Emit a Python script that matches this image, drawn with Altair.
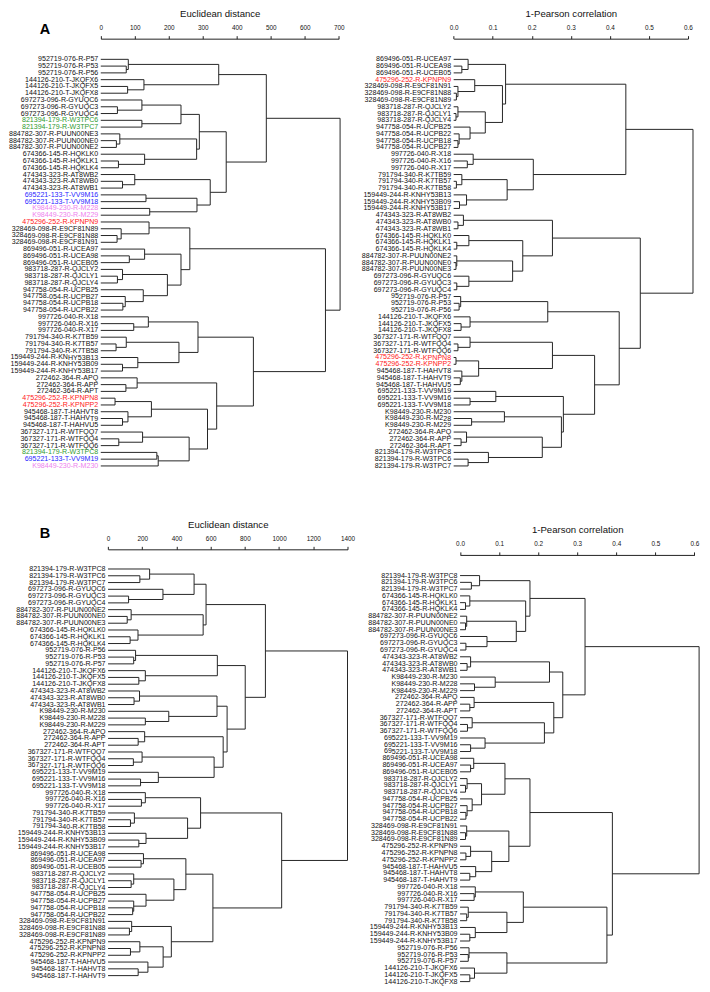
import altair as alt
import pandas as pd

# ---------------- leaf orders (top to bottom) ----------------
AL_LEAVES = [
    "952719-076-R-P57", "952719-076-R-P53", "952719-076-R-P56",
    "144126-210-T-JKQFX6", "144126-210-T-JKQFX5", "144126-210-T-JKQFX8",
    "697273-096-R-GYUQC6", "697273-096-R-GYUQC3", "697273-096-R-GYUQC4",
    "821394-179-R-W3TPC6", "821394-179-R-W3TPC7",
    "884782-307-R-PUUN00NE3", "884782-307-R-PUUN00NE0", "884782-307-R-PUUN00NE2",
    "674366-145-R-HQKLK0", "674366-145-R-HQKLK1", "674366-145-R-HQKLK4",
    "474343-323-R-AT8WB2", "474343-323-R-AT8WB0", "474343-323-R-AT8WB1",
    "695221-133-T-VV9M16", "695221-133-T-VV9M18",
    "K98449-230-R-M228", "K98449-230-R-M229",
    "475296-252-R-KPNPN9",
    "328469-098-R-E9CF81N89", "328469-098-R-E9CF81N88", "328469-098-R-E9CF81N91",
    "869496-051-R-UCEA97", "869496-051-R-UCEA98", "869496-051-R-UCEB05",
    "983718-287-R-QJCLY2", "983718-287-R-QJCLY1", "983718-287-R-QJCLY4",
    "947758-054-R-UCPB25", "947758-054-R-UCPB27", "947758-054-R-UCPB18", "947758-054-R-UCPB22",
    "997726-040-R-X18", "997726-040-R-X16", "997726-040-R-X17",
    "791794-340-R-K7TB59", "791794-340-R-K7TB57", "791794-340-R-K7TB58",
    "159449-244-R-KNHY53B13", "159449-244-R-KNHY53B09", "159449-244-R-KNHY53B17",
    "272462-364-R-APQ", "272462-364-R-APP", "272462-364-R-APT",
    "475296-252-R-KPNPN8", "475296-252-R-KPNPP2",
    "945468-187-T-HAHVT8", "945468-187-T-HAHVT9", "945468-187-T-HAHVU5",
    "367327-171-R-WTFQQ7", "367327-171-R-WTFQQ4", "367327-171-R-WTFQQ6",
    "821394-179-R-W3TPC8", "695221-133-T-VV9M19", "K98449-230-R-M230",
]

AR_LEAVES = [
    "869496-051-R-UCEA97", "869496-051-R-UCEA98", "869496-051-R-UCEB05",
    "475296-252-R-KPNPN9",
    "328469-098-R-E9CF81N91", "328469-098-R-E9CF81N88", "328469-098-R-E9CF81N89",
    "983718-287-R-QJCLY2", "983718-287-R-QJCLY1", "983718-287-R-QJCLY4",
    "947758-054-R-UCPB25", "947758-054-R-UCPB22", "947758-054-R-UCPB18", "947758-054-R-UCPB27",
    "997726-040-R-X18", "997726-040-R-X16", "997726-040-R-X17",
    "791794-340-R-K7TB59", "791794-340-R-K7TB57", "791794-340-R-K7TB58",
    "159449-244-R-KNHY53B13", "159449-244-R-KNHY53B09", "159449-244-R-KNHY53B17",
    "474343-323-R-AT8WB2", "474343-323-R-AT8WB0", "474343-323-R-AT8WB1",
    "674366-145-R-HQKLK0", "674366-145-R-HQKLK1", "674366-145-R-HQKLK4",
    "884782-307-R-PUUN00NE2", "884782-307-R-PUUN00NE0", "884782-307-R-PUUN00NE3",
    "697273-096-R-GYUQC6", "697273-096-R-GYUQC3", "697273-096-R-GYUQC4",
    "952719-076-R-P57", "952719-076-R-P53", "952719-076-R-P56",
    "144126-210-T-JKQFX6", "144126-210-T-JKQFX5", "144126-210-T-JKQFX8",
    "367327-171-R-WTFQQ7", "367327-171-R-WTFQQ4", "367327-171-R-WTFQQ6",
    "475296-252-R-KPNPN8", "475296-252-R-KPNPP2",
    "945468-187-T-HAHVT8", "945468-187-T-HAHVT9", "945468-187-T-HAHVU5",
    "695221-133-T-VV9M19", "695221-133-T-VV9M16", "695221-133-T-VV9M18",
    "K98449-230-R-M230", "K98449-230-R-M228", "K98449-230-R-M229",
    "272462-364-R-APQ", "272462-364-R-APP", "272462-364-R-APT",
    "821394-179-R-W3TPC8", "821394-179-R-W3TPC6", "821394-179-R-W3TPC7",
]

BL_LEAVES = [
    "821394-179-R-W3TPC8", "821394-179-R-W3TPC6", "821394-179-R-W3TPC7",
    "697273-096-R-GYUQC6", "697273-096-R-GYUQC3", "697273-096-R-GYUQC4",
    "884782-307-R-PUUN00NE2", "884782-307-R-PUUN00NE0", "884782-307-R-PUUN00NE3",
    "674366-145-R-HQKLK0", "674366-145-R-HQKLK1", "674366-145-R-HQKLK4",
    "952719-076-R-P56", "952719-076-R-P53", "952719-076-R-P57",
    "144126-210-T-JKQFX6", "144126-210-T-JKQFX5", "144126-210-T-JKQFX8",
    "474343-323-R-AT8WB2", "474343-323-R-AT8WB0", "474343-323-R-AT8WB1",
    "K98449-230-R-M230", "K98449-230-R-M228", "K98449-230-R-M229",
    "272462-364-R-APQ", "272462-364-R-APP", "272462-364-R-APT",
    "367327-171-R-WTFQQ7", "367327-171-R-WTFQQ4", "367327-171-R-WTFQQ6",
    "695221-133-T-VV9M19", "695221-133-T-VV9M16", "695221-133-T-VV9M18",
    "997726-040-R-X18", "997726-040-R-X16", "997726-040-R-X17",
    "791794-340-R-K7TB59", "791794-340-R-K7TB57", "791794-340-R-K7TB58",
    "159449-244-R-KNHY53B13", "159449-244-R-KNHY53B09", "159449-244-R-KNHY53B17",
    "869496-051-R-UCEA98", "869496-051-R-UCEA97", "869496-051-R-UCEB05",
    "983718-287-R-QJCLY2", "983718-287-R-QJCLY1", "983718-287-R-QJCLY4",
    "947758-054-R-UCPB25", "947758-054-R-UCPB27", "947758-054-R-UCPB18", "947758-054-R-UCPB22",
    "328469-098-R-E9CF81N91", "328469-098-R-E9CF81N88", "328469-098-R-E9CF81N89",
    "475296-252-R-KPNPN9", "475296-252-R-KPNPN8", "475296-252-R-KPNPP2",
    "945468-187-T-HAHVU5", "945468-187-T-HAHVT8", "945468-187-T-HAHVT9",
]

BR_LEAVES = [
    "821394-179-R-W3TPC8", "821394-179-R-W3TPC6", "821394-179-R-W3TPC7",
    "674366-145-R-HQKLK0", "674366-145-R-HQKLK1", "674366-145-R-HQKLK4",
    "884782-307-R-PUUN00NE2", "884782-307-R-PUUN00NE0", "884782-307-R-PUUN00NE3",
    "697273-096-R-GYUQC6", "697273-096-R-GYUQC3", "697273-096-R-GYUQC4",
    "474343-323-R-AT8WB2", "474343-323-R-AT8WB0", "474343-323-R-AT8WB1",
    "K98449-230-R-M230", "K98449-230-R-M228", "K98449-230-R-M229",
    "272462-364-R-APQ", "272462-364-R-APP", "272462-364-R-APT",
    "367327-171-R-WTFQQ7", "367327-171-R-WTFQQ4", "367327-171-R-WTFQQ6",
    "695221-133-T-VV9M19", "695221-133-T-VV9M16", "695221-133-T-VV9M18",
    "869496-051-R-UCEA98", "869496-051-R-UCEA97", "869496-051-R-UCEB05",
    "983718-287-R-QJCLY2", "983718-287-R-QJCLY1", "983718-287-R-QJCLY4",
    "947758-054-R-UCPB25", "947758-054-R-UCPB27", "947758-054-R-UCPB18", "947758-054-R-UCPB22",
    "328469-098-R-E9CF81N91", "328469-098-R-E9CF81N88", "328469-098-R-E9CF81N89",
    "475296-252-R-KPNPN9", "475296-252-R-KPNPN8", "475296-252-R-KPNPP2",
    "945468-187-T-HAHVU5", "945468-187-T-HAHVT8", "945468-187-T-HAHVT9",
    "997726-040-R-X18", "997726-040-R-X16", "997726-040-R-X17",
    "791794-340-R-K7TB59", "791794-340-R-K7TB57", "791794-340-R-K7TB58",
    "159449-244-R-KNHY53B13", "159449-244-R-KNHY53B09", "159449-244-R-KNHY53B17",
    "952719-076-R-P56", "952719-076-R-P53", "952719-076-R-P57",
    "144126-210-T-JKQFX6", "144126-210-T-JKQFX5", "144126-210-T-JKQFX8",
]

# ---------------- merges: (node, child1, child2, height) ----------------
AL_MERGES = [
    ("p1", "952719-076-R-P53", "952719-076-R-P56", 75),
    ("p2", "952719-076-R-P57", "p1", 81),
    ("j1", "144126-210-T-JKQFX5", "144126-210-T-JKQFX8", 79),
    ("j2", "144126-210-T-JKQFX6", "j1", 127),
    ("pj", "p2", "j2", 347),
    ("g1", "697273-096-R-GYUQC3", "697273-096-R-GYUQC4", 49),
    ("g2", "697273-096-R-GYUQC6", "g1", 121),
    ("w1", "821394-179-R-W3TPC6", "821394-179-R-W3TPC7", 121),
    ("gw", "g2", "w1", 236),
    ("u1", "884782-307-R-PUUN00NE0", "884782-307-R-PUUN00NE2", 46),
    ("u2", "884782-307-R-PUUN00NE3", "u1", 56),
    ("h1", "674366-145-R-HQKLK1", "674366-145-R-HQKLK4", 52),
    ("h2", "674366-145-R-HQKLK0", "h1", 129),
    ("uh", "u2", "h2", 282),
    ("gwuh", "gw", "uh", 290),
    ("a1", "474343-323-R-AT8WB0", "474343-323-R-AT8WB1", 64),
    ("a2", "474343-323-R-AT8WB2", "a1", 100),
    ("v1", "695221-133-T-VV9M16", "695221-133-T-VV9M18", 133),
    ("m1", "K98449-230-R-M228", "K98449-230-R-M229", 144),
    ("vm", "v1", "m1", 283),
    ("avm", "a2", "vm", 322),
    ("mid", "gwuh", "avm", 369),
    ("top", "pj", "mid", 487),
    ("e1", "328469-098-R-E9CF81N88", "328469-098-R-E9CF81N91", 48),
    ("e2", "328469-098-R-E9CF81N89", "e1", 60),
    ("e3", "475296-252-R-KPNPN9", "e2", 142),
    ("c1", "869496-051-R-UCEA98", "869496-051-R-UCEB05", 84),
    ("c2", "869496-051-R-UCEA97", "c1", 129),
    ("q1", "983718-287-R-QJCLY1", "983718-287-R-QJCLY4", 49),
    ("q2", "983718-287-R-QJCLY2", "q1", 64),
    ("b1", "947758-054-R-UCPB18", "947758-054-R-UCPB22", 65),
    ("b2", "947758-054-R-UCPB27", "b1", 72),
    ("b3", "947758-054-R-UCPB25", "b2", 125),
    ("qb", "q2", "b3", 196),
    ("cqb", "c2", "qb", 236),
    ("ecqb", "e3", "cqb", 262),
    ("x1", "997726-040-R-X16", "997726-040-R-X17", 97),
    ("x2", "997726-040-R-X18", "x1", 140),
    ("k1", "791794-340-R-K7TB57", "791794-340-R-K7TB58", 45),
    ("k2", "791794-340-R-K7TB59", "k1", 75),
    ("n1", "159449-244-R-KNHY53B09", "159449-244-R-KNHY53B17", 64),
    ("n2", "159449-244-R-KNHY53B13", "n1", 109),
    ("kn", "k2", "n2", 230),
    ("xkn", "x2", "kn", 286),
    ("r1", "272462-364-R-APP", "272462-364-R-APT", 74),
    ("r2", "272462-364-R-APQ", "r1", 107),
    ("kp", "475296-252-R-KPNPN8", "475296-252-R-KPNPP2", 42),
    ("t1", "945468-187-T-HAHVT9", "945468-187-T-HAHVU5", 64),
    ("t2", "945468-187-T-HAHVT8", "t1", 80),
    ("kt", "kp", "t2", 149),
    ("f1", "367327-171-R-WTFQQ4", "367327-171-R-WTFQQ6", 53),
    ("f2", "367327-171-R-WTFQQ7", "f1", 123),
    ("s1", "821394-179-R-W3TPC8", "695221-133-T-VV9M19", 165),
    ("s2", "s1", "K98449-230-R-M230", 169),
    ("fs", "f2", "s2", 260),
    ("ktfs", "kt", "fs", 314),
    ("rk", "r2", "ktfs", 341),
    ("xr", "xkn", "rk", 449),
    ("low", "ecqb", "xr", 661),
    ("root", "top", "low", 704),
]

AR_MERGES = [
    ("c1", "869496-051-R-UCEA98", "869496-051-R-UCEB05", 0.021),
    ("c2", "869496-051-R-UCEA97", "c1", 0.037),
    ("e1", "328469-098-R-E9CF81N88", "328469-098-R-E9CF81N89", 0.007),
    ("e2", "328469-098-R-E9CF81N91", "e1", 0.011),
    ("e3", "475296-252-R-KPNPN9", "e2", 0.054),
    ("q1", "983718-287-R-QJCLY1", "983718-287-R-QJCLY4", 0.006),
    ("q2", "983718-287-R-QJCLY2", "q1", 0.011),
    ("b1", "947758-054-R-UCPB18", "947758-054-R-UCPB27", 0.011),
    ("b2", "947758-054-R-UCPB22", "b1", 0.014),
    ("b3", "947758-054-R-UCPB25", "b2", 0.042),
    ("qb", "q2", "b3", 0.081),
    ("eqb", "e3", "qb", 0.125),
    ("ceqb", "c2", "eqb", 0.133),
    ("x1", "997726-040-R-X16", "997726-040-R-X17", 0.035),
    ("x2", "997726-040-R-X18", "x1", 0.050),
    ("k1", "791794-340-R-K7TB57", "791794-340-R-K7TB58", 0.007),
    ("k2", "791794-340-R-K7TB59", "k1", 0.021),
    ("n1", "159449-244-R-KNHY53B09", "159449-244-R-KNHY53B17", 0.015),
    ("n2", "159449-244-R-KNHY53B13", "n1", 0.033),
    ("kn", "k2", "n2", 0.137),
    ("xkn", "x2", "kn", 0.204),
    ("up", "ceqb", "xkn", 0.441),
    ("a1", "474343-323-R-AT8WB0", "474343-323-R-AT8WB1", 0.011),
    ("a2", "474343-323-R-AT8WB2", "a1", 0.025),
    ("h1", "674366-145-R-HQKLK1", "674366-145-R-HQKLK4", 0.008),
    ("h2", "674366-145-R-HQKLK0", "h1", 0.039),
    ("u1", "884782-307-R-PUUN00NE0", "884782-307-R-PUUN00NE3", 0.006),
    ("u2", "884782-307-R-PUUN00NE2", "u1", 0.008),
    ("g1", "697273-096-R-GYUQC3", "697273-096-R-GYUQC4", 0.008),
    ("g2", "697273-096-R-GYUQC6", "g1", 0.039),
    ("ug", "u2", "g2", 0.151),
    ("hug", "h2", "ug", 0.177),
    ("ahug", "a2", "hug", 0.253),
    ("p1", "952719-076-R-P53", "952719-076-R-P56", 0.014),
    ("p2", "952719-076-R-P57", "p1", 0.018),
    ("j1", "144126-210-T-JKQFX5", "144126-210-T-JKQFX8", 0.019),
    ("j2", "144126-210-T-JKQFX6", "j1", 0.042),
    ("pj", "p2", "j2", 0.241),
    ("f1", "367327-171-R-WTFQQ4", "367327-171-R-WTFQQ6", 0.011),
    ("f2", "367327-171-R-WTFQQ7", "f1", 0.042),
    ("kp", "475296-252-R-KPNPN8", "475296-252-R-KPNPP2", 0.006),
    ("t1", "945468-187-T-HAHVT9", "945468-187-T-HAHVU5", 0.017),
    ("t2", "945468-187-T-HAHVT8", "t1", 0.021),
    ("kt", "kp", "t2", 0.064),
    ("fkt", "f2", "kt", 0.253),
    ("v1", "695221-133-T-VV9M16", "695221-133-T-VV9M18", 0.042),
    ("v2", "695221-133-T-VV9M19", "v1", 0.108),
    ("m1", "K98449-230-R-M228", "K98449-230-R-M229", 0.046),
    ("m2", "K98449-230-R-M230", "m1", 0.130),
    ("r1", "272462-364-R-APP", "272462-364-R-APT", 0.019),
    ("r2", "272462-364-R-APQ", "r1", 0.033),
    ("w1", "821394-179-R-W3TPC6", "821394-179-R-W3TPC7", 0.037),
    ("w2", "821394-179-R-W3TPC8", "w1", 0.089),
    ("rw", "r2", "w2", 0.227),
    ("mrw", "m2", "rw", 0.276),
    ("vmrw", "v2", "mrw", 0.281),
    ("fv", "fkt", "vmrw", 0.361),
    ("pjfv", "pj", "fv", 0.424),
    ("low", "ahug", "pjfv", 0.478),
    ("root", "up", "low", 0.613),
]

BL_MERGES = [
    ("w1", "821394-179-R-W3TPC6", "821394-179-R-W3TPC7", 186),
    ("w2", "821394-179-R-W3TPC8", "w1", 243),
    ("g1", "697273-096-R-GYUQC3", "697273-096-R-GYUQC4", 120),
    ("g2", "697273-096-R-GYUQC6", "g1", 321),
    ("wg", "w2", "g2", 503),
    ("u1", "884782-307-R-PUUN00NE0", "884782-307-R-PUUN00NE3", 112),
    ("u2", "884782-307-R-PUUN00NE2", "u1", 135),
    ("h1", "674366-145-R-HQKLK1", "674366-145-R-HQKLK4", 129),
    ("h2", "674366-145-R-HQKLK0", "h1", 175),
    ("uh", "u2", "h2", 556),
    ("wguh", "wg", "uh", 573),
    ("p1", "952719-076-R-P53", "952719-076-R-P57", 150),
    ("p2", "952719-076-R-P56", "p1", 161),
    ("j1", "144126-210-T-JKQFX5", "144126-210-T-JKQFX8", 180),
    ("j2", "144126-210-T-JKQFX6", "j1", 218),
    ("pj", "p2", "j2", 639),
    ("a1", "474343-323-R-AT8WB0", "474343-323-R-AT8WB1", 152),
    ("a2", "474343-323-R-AT8WB2", "a1", 184),
    ("m1", "K98449-230-R-M228", "K98449-230-R-M229", 218),
    ("m2", "K98449-230-R-M230", "m1", 355),
    ("am", "a2", "m2", 637),
    ("r1", "272462-364-R-APP", "272462-364-R-APT", 176),
    ("r2", "272462-364-R-APQ", "r1", 214),
    ("f1", "367327-171-R-WTFQQ4", "367327-171-R-WTFQQ6", 148),
    ("f2", "367327-171-R-WTFQQ7", "f1", 199),
    ("v1", "695221-133-T-VV9M16", "695221-133-T-VV9M18", 190),
    ("v2", "695221-133-T-VV9M19", "v1", 294),
    ("fv", "f2", "v2", 620),
    ("rfv", "r2", "fv", 673),
    ("amrfv", "am", "rfv", 696),
    ("pjam", "pj", "amrfv", 802),
    ("up", "wguh", "pjam", 920),
    ("x1", "997726-040-R-X16", "997726-040-R-X17", 195),
    ("x2", "997726-040-R-X18", "x1", 218),
    ("k1", "791794-340-R-K7TB57", "791794-340-R-K7TB58", 131),
    ("k2", "791794-340-R-K7TB59", "k1", 154),
    ("n1", "159449-244-R-KNHY53B09", "159449-244-R-KNHY53B17", 180),
    ("n2", "159449-244-R-KNHY53B13", "n1", 222),
    ("kn", "k2", "n2", 465),
    ("xkn", "x2", "kn", 541),
    ("c1", "869496-051-R-UCEA97", "869496-051-R-UCEB05", 193),
    ("c2", "869496-051-R-UCEA98", "c1", 207),
    ("q1", "983718-287-R-QJCLY1", "983718-287-R-QJCLY4", 135),
    ("q2", "983718-287-R-QJCLY2", "q1", 150),
    ("b1", "947758-054-R-UCPB18", "947758-054-R-UCPB22", 144),
    ("b2", "947758-054-R-UCPB27", "b1", 150),
    ("b3", "947758-054-R-UCPB25", "b2", 222),
    ("qb", "q2", "b3", 385),
    ("cqb", "c2", "qb", 455),
    ("e1", "328469-098-R-E9CF81N88", "328469-098-R-E9CF81N89", 125),
    ("e2", "328469-098-R-E9CF81N91", "e1", 138),
    ("k3", "475296-252-R-KPNPN8", "475296-252-R-KPNPP2", 131),
    ("k4", "475296-252-R-KPNPN9", "k3", 186),
    ("t1", "945468-187-T-HAHVT8", "945468-187-T-HAHVT9", 176),
    ("t2", "945468-187-T-HAHVU5", "t1", 233),
    ("kt", "k4", "t2", 322),
    ("ekt", "e2", "kt", 370),
    ("ce", "cqb", "ekt", 613),
    ("low", "xkn", "ce", 1015),
    ("root", "up", "low", 1400),
]

BR_MERGES = [
    ("w1", "821394-179-R-W3TPC6", "821394-179-R-W3TPC7", 0.029),
    ("w2", "821394-179-R-W3TPC8", "w1", 0.050),
    ("h1", "674366-145-R-HQKLK1", "674366-145-R-HQKLK4", 0.014),
    ("h2", "674366-145-R-HQKLK0", "h1", 0.025),
    ("u1", "884782-307-R-PUUN00NE0", "884782-307-R-PUUN00NE3", 0.014),
    ("u2", "884782-307-R-PUUN00NE2", "u1", 0.017),
    ("g1", "697273-096-R-GYUQC3", "697273-096-R-GYUQC4", 0.015),
    ("g2", "697273-096-R-GYUQC6", "g1", 0.069),
    ("ug", "u2", "g2", 0.144),
    ("hug", "h2", "ug", 0.168),
    ("whug", "w2", "hug", 0.179),
    ("a1", "474343-323-R-AT8WB0", "474343-323-R-AT8WB1", 0.018),
    ("a2", "474343-323-R-AT8WB2", "a1", 0.027),
    ("m1", "K98449-230-R-M228", "K98449-230-R-M229", 0.037),
    ("m2", "K98449-230-R-M230", "m1", 0.090),
    ("am", "a2", "m2", 0.229),
    ("r1", "272462-364-R-APP", "272462-364-R-APT", 0.025),
    ("r2", "272462-364-R-APQ", "r1", 0.036),
    ("f1", "367327-171-R-WTFQQ4", "367327-171-R-WTFQQ6", 0.019),
    ("f2", "367327-171-R-WTFQQ7", "f1", 0.031),
    ("v1", "695221-133-T-VV9M16", "695221-133-T-VV9M18", 0.027),
    ("v2", "695221-133-T-VV9M19", "v1", 0.064),
    ("fv", "f2", "v2", 0.216),
    ("rfv", "r2", "fv", 0.240),
    ("amrfv", "am", "rfv", 0.263),
    ("up", "whug", "amrfv", 0.320),
    ("c1", "869496-051-R-UCEA97", "869496-051-R-UCEB05", 0.027),
    ("c2", "869496-051-R-UCEA98", "c1", 0.035),
    ("q1", "983718-287-R-QJCLY1", "983718-287-R-QJCLY4", 0.014),
    ("q2", "983718-287-R-QJCLY2", "q1", 0.018),
    ("b1", "947758-054-R-UCPB18", "947758-054-R-UCPB22", 0.015),
    ("b2", "947758-054-R-UCPB27", "b1", 0.018),
    ("b3", "947758-054-R-UCPB25", "b2", 0.031),
    ("qb", "q2", "b3", 0.055),
    ("cqb", "c2", "qb", 0.115),
    ("e1", "328469-098-R-E9CF81N88", "328469-098-R-E9CF81N89", 0.014),
    ("e2", "328469-098-R-E9CF81N91", "e1", 0.017),
    ("k3", "475296-252-R-KPNPN8", "475296-252-R-KPNPP2", 0.015),
    ("k4", "475296-252-R-KPNPN9", "k3", 0.027),
    ("t1", "945468-187-T-HAHVT8", "945468-187-T-HAHVT9", 0.025),
    ("t2", "945468-187-T-HAHVU5", "t1", 0.040),
    ("kt", "k4", "t2", 0.081),
    ("ekt", "e2", "kt", 0.125),
    ("ce", "cqb", "ekt", 0.179),
    ("x1", "997726-040-R-X16", "997726-040-R-X17", 0.036),
    ("x2", "997726-040-R-X18", "x1", 0.039),
    ("k1", "791794-340-R-K7TB57", "791794-340-R-K7TB58", 0.017),
    ("k2", "791794-340-R-K7TB59", "k1", 0.021),
    ("n1", "159449-244-R-KNHY53B09", "159449-244-R-KNHY53B17", 0.025),
    ("n2", "159449-244-R-KNHY53B13", "n1", 0.039),
    ("kn", "k2", "n2", 0.120),
    ("xkn", "x2", "kn", 0.162),
    ("p1", "952719-076-R-P53", "952719-076-R-P57", 0.021),
    ("p2", "952719-076-R-P56", "p1", 0.023),
    ("j1", "144126-210-T-JKQFX5", "144126-210-T-JKQFX8", 0.025),
    ("j2", "144126-210-T-JKQFX6", "j1", 0.037),
    ("pj", "p2", "j2", 0.120),
    ("xpj", "xkn", "pj", 0.376),
    ("low", "ce", "xpj", 0.390),
    ("root", "up", "low", 0.612),
]

# highlighted sample groups (label colour) per panel
GROUPS = ["821394-179", "695221-133", "K98449-230", "475296-252", "other"]
GROUP_COLORS = ["#2f9a2f", "#1f1fff", "#ee82ee", "#ff1a1a", "#111111"]
AL_HIGHLIGHT = ["821394-179", "695221-133", "K98449-230", "475296-252"]
AR_HIGHLIGHT = ["475296-252"]

EUC_A_TICKS = [0, 100, 200, 300, 400, 500, 600, 700]
EUC_B_TICKS = [0, 200, 400, 600, 800, 1000, 1200, 1400]
COR_TICKS = [0.0, 0.1, 0.2, 0.3, 0.4, 0.5, 0.6]

FONT = "Liberation Sans"
COLOR_OF = dict(zip(GROUPS, GROUP_COLORS))


def segments(leaves, merges):
    pos = {name: (0.0, float(i + 1)) for i, name in enumerate(leaves)}
    rows = []
    for node, a, b, h in merges:
        ha, ya = pos[a]
        hb, yb = pos[b]
        rows.append({"x": ha, "x2": h, "y": ya, "y2": ya})
        rows.append({"x": hb, "x2": h, "y": yb, "y2": yb})
        rows.append({"x": h, "x2": h, "y": ya, "y2": yb})
        pos[node] = (h, (ya + yb) / 2.0)
    return pd.DataFrame(rows)


def panel(leaves, merges, highlight, xdom, xrng, yrng, ticks, fmt, title,
          width, height, offset=0, letter=None):
    seg = segments(leaves, merges)
    groups = [n[:10] if n[:10] in highlight else "other" for n in leaves]
    lab = pd.DataFrame({
        "name": leaves,
        "y": [float(i + 1) for i in range(len(leaves))],
        "x": [0.0] * len(leaves),
        "col": [COLOR_OF[g] for g in groups],
    })
    xs = alt.Scale(domain=xdom, range=xrng, nice=False, zero=False)
    ys = alt.Scale(domain=[1, len(leaves)], range=yrng, nice=False, zero=False)
    xax = alt.Axis(orient="top", values=ticks, format=fmt, title=title, offset=offset,
                   grid=False, tickSize=3, labelPadding=5, titlePadding=6,
                   labelFontSize=6.4, titleFontSize=9.6, titleFontWeight="normal",
                   labelFont=FONT, titleFont=FONT, domainColor="#222222",
                   tickColor="#222222", labelColor="#111111", titleColor="#111111",
                   labelFlush=False, labelOverlap=False)
    rules = alt.Chart(seg).mark_rule(color="#262626", strokeWidth=1).encode(
        x=alt.X("x:Q", scale=xs, axis=xax),
        x2="x2:Q",
        y=alt.Y("y:Q", scale=ys, axis=None),
        y2="y2:Q",
    )
    text = alt.Chart(lab).mark_text(align="right", baseline="middle", dx=-2.5,
                                    fontSize=7.1, font=FONT, angle=0.02).encode(
        x=alt.X("x:Q", scale=xs, axis=xax),
        y=alt.Y("y:Q", scale=ys, axis=None),
        text="name:N",
        color=alt.Color("col:N", scale=None, legend=None),
    )
    layers = [rules, text]
    if letter is not None:
        lt = alt.Chart(pd.DataFrame({"t": [letter[0]]})).mark_text(
            fontSize=14.5, fontWeight="bold", font=FONT, align="center",
            baseline="middle", color="#000000").encode(
            x=alt.value(letter[1]), y=alt.value(letter[2]), text="t:N")
        layers.append(lt)
    return alt.layer(*layers).properties(width=width, height=height)


A_H = 516.4
B_H = 432

al = panel(AL_LEAVES, AL_MERGES, AL_HIGHLIGHT, [0, 700], [91.9, 330.2], [20.7, 427.9],
           EUC_A_TICKS, "d", "Euclidean distance", 345, A_H, 0, ("A", 36, -8.9))
ar = panel(AR_LEAVES, AR_MERGES, AR_HIGHLIGHT, [0, 0.6], [100.3, 334.9], [20.7, 427.9],
           COR_TICKS, ".1f", "1-Pearson correlation", 349, A_H, 0)
bl = panel(BL_LEAVES, BL_MERGES, [], [0, 1400], [99.2, 339.0], [14.1, 421.3],
           EUC_B_TICKS, "d", "Euclidean distance", 345, B_H, 5.6, ("B", 36, -20.7))
br = panel(BR_LEAVES, BR_MERGES, [], [0, 0.6], [106.7, 341.4], [20.7, 427.3],
           COR_TICKS, ".1f", "1-Pearson correlation", 349, B_H, 0)

chart = alt.concat(al, ar, bl, br, columns=2, spacing=0, bounds="flush").resolve_scale(
    x="independent", y="independent", color="independent"
).properties(
    padding={"left": 0, "top": 0, "right": 0, "bottom": 0},
    background="white",
).configure(font=FONT).configure_view(stroke=None)

chart.save("out.html", embed_options={"renderer": "svg", "actions": False})
